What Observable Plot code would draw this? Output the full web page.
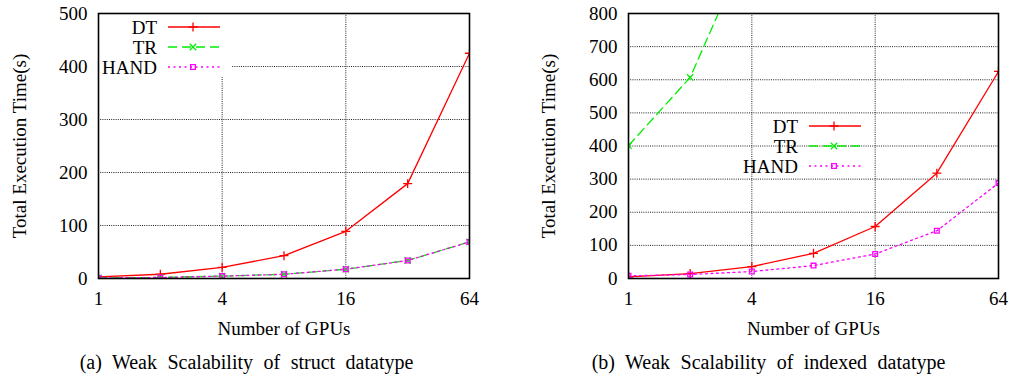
<!DOCTYPE html>
<html>
<head>
<meta charset="utf-8">
<script src="https://cdn.jsdelivr.net/npm/d3@7"></script>
<script src="https://cdn.jsdelivr.net/npm/@observablehq/plot@0.6"></script>
<style>
  html, body { margin: 0; padding: 0; background: #fff; }
  #wrap { position: relative; width: 1009px; height: 377px; overflow: hidden; font-family: "Liberation Serif", "Times New Roman", serif; }
  #wrap svg, #wrap svg text { font-family: "Liberation Serif", "Times New Roman", serif !important; }
  .panel { position: absolute; top: 0; }
  .cap { position: absolute; top: 352px; font-family: "Liberation Serif", "Times New Roman", serif; font-size: 20px; line-height: 20px; word-spacing: 5.5px; text-align: center; white-space: nowrap; color: #000; }
</style>
</head>
<body>
<div id="wrap">
  <div id="pa" class="panel" style="left:0px"></div>
  <div id="pb" class="panel" style="left:504px"></div>
  <div class="cap" style="left:0px;width:493px">(a) Weak Scalability of struct datatype</div>
  <div class="cap" style="left:518px;width:501px">(b) Weak Scalability of indexed datatype</div>
</div>
<script>
// ---- data ----
const gpus = [1, 2, 4, 8, 16, 32, 64];
const xTickValues = [1, 4, 16, 64];
const seriesNames = ["DT", "TR", "HAND"];

const structDT   = [3, 8, 21, 43, 89, 179, 425];
const structTR   = [1, 2, 4.5, 8, 17.5, 34, 69];
const structHAND = [1, 2, 4.5, 8, 17.5, 34, 69];
const structYTicks = [0, 100, 200, 300, 400, 500];

const indexedDT   = [5, 15, 36, 76, 157, 318, 625];
const indexedTR   = [401, 607, 1030];
const indexedHAND = [8, 12, 21, 39, 74, 144, 288];
const indexedYTicks = [0, 100, 200, 300, 400, 500, 600, 700, 800];

const xLabel = "Number of GPUs";
const yLabel = "Total Execution Time(s)";

// ---- styles ----
const FONT = '"Liberation Serif", "Times New Roman", serif';
const seriesStyle = {
  DT:   {color: "#ff0000", dash: null,    sym: d3.symbolPlus,    plotSym: "plus"},
  TR:   {color: "#00ee00", dash: "9,5",   sym: d3.symbolTimes,   plotSym: "times"},
  HAND: {color: "#ff00ff", dash: "2,3.5", sym: d3.symbolSquare2, plotSym: "square2"}
};

function panel({values, yTicks, legend, box, marginLeft, marginRight, width, yLabelDx}) {
  const height = 345;
  const rows = seriesNames.flatMap((name, k) =>
    values[k].map((v, i) => ({series: name, x: gpus[i], y: v})));
  const yMax = yTicks[yTicks.length - 1];
  const grid = {stroke: "#222", strokeOpacity: 1, strokeDasharray: "1,1.2", strokeWidth: 1};
  const symR = 3;

  const legendMark = (index, scales, vals, dims) => {
    const g = d3.create("svg:g");
    const ml = dims.marginLeft, mt = dims.marginTop;
    if (box) {
      g.append("rect").attr("x", ml + 1).attr("y", mt + 1)
        .attr("width", box.w).attr("height", box.h).attr("fill", "#fff");
    }
    seriesNames.forEach((name, i) => {
      const st = seriesStyle[name];
      const y = mt + legend.top + i * 20;
      const xr = ml + legend.textRight;
      g.append("text").attr("x", xr).attr("y", y).attr("dy", "0.35em")
        .attr("text-anchor", "end").attr("fill", "#000").attr("font-family", FONT).text(name);
      g.append("line").attr("x1", xr + 11).attr("x2", xr + 63).attr("y1", y).attr("y2", y)
        .attr("stroke", st.color).attr("stroke-width", 1.3)
        .attr("stroke-dasharray", st.dash);
      g.append("path").attr("d", d3.symbol(st.sym, symR * symR * Math.PI)())
        .attr("transform", `translate(${xr + 36},${y})`)
        .attr("fill", "none").attr("stroke", st.color).attr("stroke-width", 1.3);
    });
    return g.node();
  };

  const marks = [
    Plot.gridX([4, 16], grid),
    Plot.gridY(yTicks.filter(t => t > 0 && t < yMax), grid),
    legendMark
  ];
  seriesNames.forEach(name => {
    const st = seriesStyle[name];
    const data = rows.filter(r => r.series === name);
    marks.push(Plot.line(data, {x: "x", y: "y", stroke: st.color, strokeWidth: 1.3,
      strokeDasharray: st.dash, clip: true}));
    marks.push(Plot.dot(data, {x: "x", y: "y", symbol: () => st.plotSym, stroke: st.color,
      fill: "none", r: symR, strokeWidth: 1.3, clip: true}));
  });
  marks.push(
    Plot.frame({stroke: "#000", strokeWidth: 1.6}),
    Plot.axisX(xTickValues, {tickSize: 0, tickPadding: 13, tickFormat: d => String(d), label: null, fontFamily: FONT}),
    Plot.axisY(yTicks, {tickSize: 0, tickPadding: 11, tickFormat: d => String(d), label: null, fontFamily: FONT}),
    Plot.text([xLabel], {frameAnchor: "bottom", dy: 50.5, lineAnchor: "middle", textAnchor: "middle",
      text: d => d, fill: "#000", fontFamily: FONT}),
    Plot.text([yLabel], {frameAnchor: "left", dx: yLabelDx, rotate: -90, lineAnchor: "middle", textAnchor: "middle",
      text: d => d, fill: "#000", fontFamily: FONT})
  );

  return Plot.plot({
    width, height,
    marginLeft, marginRight, marginTop: 13, marginBottom: height - 278,
    x: {type: "log", base: 2, domain: [1, 64]},
    y: {domain: [0, yMax]},
    style: {fontFamily: FONT, fontSize: "19px", color: "#000", background: "transparent", overflow: "visible"},
    marks
  });
}

document.getElementById("pa").appendChild(panel({
  values: [structDT, structTR, structHAND],
  yTicks: structYTicks,
  legend: {textRight: 59, top: 14},
  box: {w: 132, h: 63},
  marginLeft: 98, marginRight: 35, width: 504, yLabelDx: -78.5
}));

document.getElementById("pb").appendChild(panel({
  values: [indexedDT, indexedTR, indexedHAND],
  yTicks: indexedYTicks,
  legend: {textRight: 170, top: 113},
  box: null,
  marginLeft: 124, marginRight: 11, width: 505, yLabelDx: -80
}));
</script>
</body>
</html>
